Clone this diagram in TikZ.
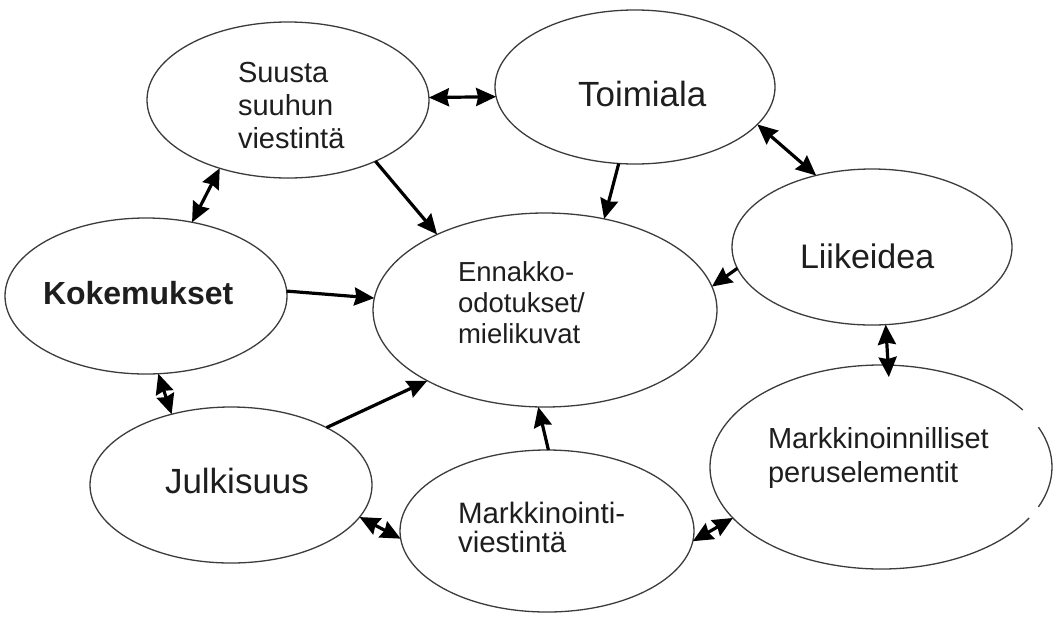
\documentclass[tikz,border=0pt]{standalone}
\usepackage{fontspec}
\setmainfont{Liberation Sans}
\usetikzlibrary{shapes.geometric,arrows.meta}
\definecolor{ellcol}{RGB}{60,60,60}
\definecolor{txtcol}{RGB}{30,30,30}
\begin{document}
\begin{tikzpicture}[x=1pt,y=1pt,
 ell/.style={ellipse,draw=ellcol,line width=1.3pt,inner sep=0pt,outer sep=0pt},
 ellline/.style={draw=ellcol,line width=1.3pt},
 lbl/.style={inner sep=0pt,outer sep=0pt,text=txtcol,align=left},
 bigtip/.tip={Stealth[length=20pt,width=18pt,inset=2pt]},
 arr/.style={line width=3.2pt,-bigtip},
 dbl/.style={line width=3.2pt,bigtip-bigtip}]
\useasboundingbox (0,0) rectangle (1056,-619);
\fill[white] (0,0) rectangle (1056,-619);
% ellipses
\node[ell,minimum width=282pt,minimum height=156pt] (S) at (288,-100) {};
\node[ell,minimum width=280pt,minimum height=154pt] (T) at (635,-87) {};
\node[ell,minimum width=280pt,minimum height=156pt] (L) at (872,-247) {};
\node[ell,minimum width=282pt,minimum height=156pt] (K) at (146,-296) {};
\node[ell,minimum width=344pt,minimum height=194pt] (E) at (545,-310) {};
\node[ell,minimum width=282pt,minimum height=156pt] (J) at (231,-485) {};
\node[ell,minimum width=294pt,minimum height=162pt] (M) at (547,-531) {};
\node[ell,draw=none,minimum width=342pt,minimum height=204pt] (P) at (881,-467) {};
\draw[ellline] ([shift={(34:171pt and 102pt)}]P.center) arc[start angle=34,end angle=330,x radius=171pt,y radius=102pt];
\draw[ellline] ([shift={(-23:171pt and 102pt)}]P.center) arc[start angle=-23,end angle=23,x radius=171pt,y radius=102pt];
% labels
\node[lbl,anchor=north west,font=\fontsize{29}{33}\selectfont] (tS) at (238,-62) {Suusta\\suuhun\\viestintä};
\node[lbl,anchor=base west,font=\fontsize{35}{40}\selectfont] (tT) at (578,-106) {Toimiala};
\node[lbl,anchor=base west,font=\fontsize{34}{40}\selectfont] (tL) at (800,-268) {Liikeidea};
\node[lbl,anchor=base west,font=\bfseries\fontsize{32}{38}\selectfont] (tK) at (43,-304) {Kokemukset};
\node[lbl,anchor=north west,font=\fontsize{27.5}{31}\selectfont] (tE) at (458,-262) {Ennakko-\\odotukset/\\mielikuvat};
\node[lbl,anchor=base west,font=\fontsize{35}{40}\selectfont] (tJ) at (165,-493) {Julkisuus};
\node[lbl,anchor=north west,font=\fontsize{29.5}{29}\selectfont] (tM) at (458,-502) {Markkinointi-\\viestintä};
\node[lbl,anchor=north west,font=\fontsize{29}{34}\selectfont] (tP) at (768,-427) {Markkinoinnilliset\\peruselementit};
% connectors
\draw[dbl] (S.1) -- (T.184);
\draw[dbl] (S.225) -- (K.58);
\draw[arr] (S.-35) -- (E.145);
\draw[arr] (T.258) -- (E.57);
\draw[dbl] (T.-17) -- (L.128);
\draw[arr] (L.189) -- (E.8);
\draw[arr] (K.2) -- (E.176);
\draw[dbl] (K.-81) -- (J.130);
\draw[arr] (J.31) -- (E.211);
\draw[dbl] (J.-14) -- (M.183);
\draw[arr] (M.89) -- (E.266);
\draw[dbl,shorten >=-12pt] (L.-80) -- (P.86);
\draw[dbl] (M.-4) -- (P.199);
\end{tikzpicture}
\end{document}
